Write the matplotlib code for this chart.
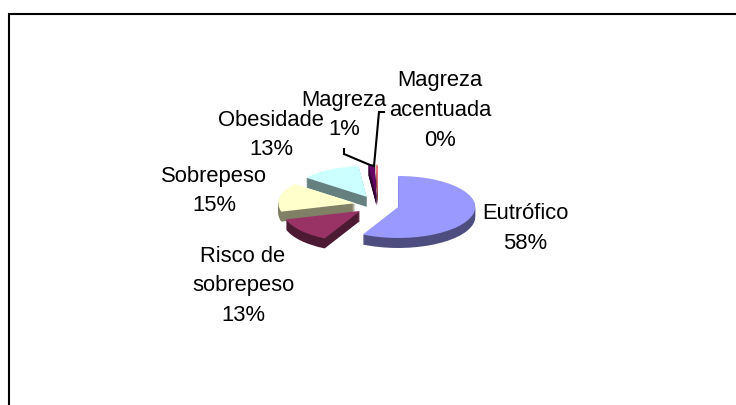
import matplotlib
matplotlib.use("Agg")
import matplotlib.pyplot as plt

categories = ["Eutrófico", "Risco de\nsobrepeso", "Sobrepeso", "Obesidade", "Magreza", "Magreza\nacentuada"]
values = [57.6, 13, 15, 12.7, 1.3, 0.4]
percent_labels = ["58%", "13%", "15%", "13%", "1%", "0%"]
top_colors = ["#9999FF", "#993366", "#FFFFCC", "#CCFFFF", "#660066", "#FF8080"]
side_colors = ["#4D4D80", "#4D1A33", "#808066", "#668080", "#330033", "#804040"]

W, H = 736, 406
cx, cy = 378, 206  # pie centre in px
rx, ry = 77, 31    # ellipse radii in px
depth = 10

plt.rcParams["font.family"] = ["Liberation Sans", "DejaVu Sans"]
fig = plt.figure(figsize=(W / 100, H / 100), dpi=100)
ax = fig.add_axes([0, 0, 1, 1])

explode = [0.27, 0.3, 0.3, 0.3, 0.3, 0.3]

# stack of darker pies for the thickness, lit one on top
for d in range(depth, 0, -1):
    ax.pie(values, explode=explode, colors=side_colors, startangle=90, counterclock=False,
           center=(0, -d / ry), wedgeprops={"linewidth": 0})
ax.pie(values, explode=explode, colors=top_colors, startangle=90, counterclock=False,
       wedgeprops={"linewidth": 0})

ax.set_aspect("auto")
ax.set_xlim(-cx / rx, (W - cx) / rx)
ax.set_ylim(-(H - cy) / ry, cy / ry)
ax.set_axis_off()


def line_px(xs, ys):
    # polyline given in picture pixels
    fig.add_artist(plt.Line2D([x / W for x in xs], [1 - y / H for y in ys], color="black", lw=1.5,
                              solid_joinstyle="miter"))


# chart border, open at the bottom and right
line_px([8.5, 8.5, 736], [406, 14.5, 14.5])

label_pos = [(525.5, 228.5), (243, 286), (214, 191), (271, 135), (344, 115), (440, 110.5)]
for name, pct, (x, y) in zip(categories, percent_labels, label_pos):
    fig.text(x / W, 1 - y / H, name + "\n" + pct, ha="center", va="center", fontsize=15.8,
             linespacing=1.56, color="black")

# leader lines
line_px([344, 344, 370, 374], [150, 155, 166, 167])
line_px([374, 379, 384], [167, 113, 113])

fig.savefig("out.png", dpi=100)
